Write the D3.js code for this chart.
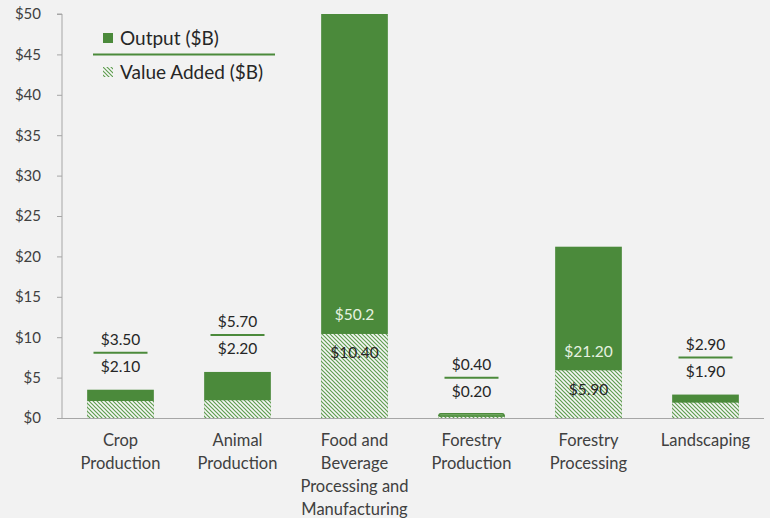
<!DOCTYPE html>
<html><head><meta charset="utf-8">
<script src="https://cdn.jsdelivr.net/npm/d3@7"></script>
<style>
html,body{margin:0;padding:0;background:#f2f2f2;}
svg{display:block;font-family:Lato,"Open Sans",sans-serif;}
</style></head>
<body>
<svg id="chart" width="770" height="518"></svg>
<script>
const categories = [["Crop","Production"],["Animal","Production"],["Food and","Beverage","Processing and","Manufacturing"],["Forestry","Production"],["Forestry","Processing"],["Landscaping"]];
const outputValues = [3.5, 5.7, 50.2, 0.4, 21.2, 2.9];
const valueAddedValues = [2.1, 2.2, 10.4, 0.2, 5.9, 1.9];
const outputLabels = ["$3.50","$5.70","$50.2","$0.40","$21.20","$2.90"];
const valueAddedLabels = ["$2.10","$2.20","$10.40","$0.20","$5.90","$1.90"];
const yTicks = [0,5,10,15,20,25,30,35,40,45,50];
const seriesNames = ["Output ($B)","Value Added ($B)"];

const svg = d3.select("#chart");
const green = "#4b8a3b", hatchGreen = "#5f9d4f", textCol = "#404040";
const mLeft = 62, mRight = 764, mTop = 14, mBottom = 418;

const defs = svg.append("defs");
const pat = defs.append("pattern").attr("id","hatch").attr("patternUnits","userSpaceOnUse")
  .attr("width",4).attr("height",4);
pat.append("rect").attr("width",4).attr("height",4).attr("fill","#f7f7f7");
pat.append("path").attr("d","M0,0 L4,4 M-1,3 L1,5 M3,-1 L5,1")
  .attr("stroke",hatchGreen).attr("stroke-width",1.2);

const idx = categories.map((d,i)=>i);
const x = d3.scaleBand().domain(idx).range([mLeft,mRight]).paddingInner(0.43).paddingOuter(0.215);
const y = d3.scaleLinear().domain([0,50]).range([mBottom,mTop]).clamp(true);

// y axis
const yAxis = svg.append("g").attr("transform",`translate(${mLeft},0)`)
  .call(d3.axisLeft(y).tickValues(yTicks).tickSize(5).tickPadding(16).tickFormat(d=>"$"+d));
yAxis.select(".domain").attr("stroke","#a6a6a6").attr("d",`M-5,${mTop}H0V${mBottom}`);
yAxis.selectAll(".tick line").attr("stroke","#a6a6a6");
yAxis.selectAll("text").attr("fill",textCol).style("font-size","15px").style("font-family","Lato,sans-serif");

// bars
const g = svg.append("g");
g.selectAll(".out").data(idx).join("rect").attr("class","out")
  .attr("x",i=>x(i)).attr("width",x.bandwidth())
  .attr("y",i=>y(outputValues[i])).attr("height",i=>mBottom-y(outputValues[i]))
  .attr("fill",green);
g.selectAll(".va").data(idx).join("rect").attr("class","va")
  .attr("x",i=>x(i)).attr("width",x.bandwidth())
  .attr("y",i=>y(valueAddedValues[i])).attr("height",i=>mBottom-y(valueAddedValues[i]))
  .attr("fill","url(#hatch)");
// lighter inner fill for the tiny bar, as in the reference
g.selectAll(".outl").data(idx.filter(i=>outputValues[i]<1)).join("rect")
  .attr("x",i=>x(i)+1).attr("width",x.bandwidth()-2)
  .attr("y",i=>y(outputValues[i])-1).attr("height",i=>mBottom-y(outputValues[i])-1)
  .attr("rx",1.5)
  .attr("fill","#8fbf7f").attr("stroke",green).attr("stroke-width",1.5);

// x axis line
svg.append("line").attr("x1",mLeft-5).attr("x2",mRight).attr("y1",mBottom+0.5).attr("y2",mBottom+0.5)
  .attr("stroke","#a6a6a6");

// category labels
const cl = svg.append("g");
idx.forEach(i=>{
  const t = cl.append("text").attr("text-anchor","middle").attr("fill",textCol)
    .style("font-size","16.5px");
  categories[i].forEach((line,k)=>{
    t.append("tspan").attr("x",x(i)+x.bandwidth()/2).attr("y",446+k*23).text(line);
  });
});

// data labels
const lab = svg.append("g").style("font-size","15.5px");
idx.forEach(i=>{
  const cx = x(i)+x.bandwidth()/2;
  if (outputValues[i] > 10) {
    const vaTop = y(valueAddedValues[i]);
    lab.append("text").attr("x",cx).attr("y",vaTop-19).attr("dy","0.35em").attr("text-anchor","middle")
      .attr("fill","#e6f2e0").text(outputLabels[i]);
    lab.append("text").attr("x",cx).attr("y",vaTop+19).attr("dy","0.35em").attr("text-anchor","middle")
      .attr("fill","#262626").text(valueAddedLabels[i]);
  } else {
    const topY = y(outputValues[i]);
    lab.append("text").attr("x",cx).attr("y",topY-23).attr("dy","0.35em").attr("text-anchor","middle")
      .attr("fill","#262626").text(valueAddedLabels[i]);
    lab.append("line").attr("x1",cx-27).attr("x2",cx+27).attr("y1",topY-37).attr("y2",topY-37)
      .attr("stroke",green).attr("stroke-width",2);
    lab.append("text").attr("x",cx).attr("y",topY-50).attr("dy","0.35em").attr("text-anchor","middle")
      .attr("fill","#262626").text(outputLabels[i]);
  }
});

// legend
const lg = svg.append("g");
lg.append("rect").attr("x",103).attr("y",33).attr("width",10).attr("height",10).attr("fill",green);
lg.append("text").attr("x",120).attr("y",38).attr("dy","0.35em").attr("fill","#262626")
  .style("font-size","19px").text(seriesNames[0]);
lg.append("line").attr("x1",93).attr("x2",275).attr("y1",54.5).attr("y2",54.5)
  .attr("stroke",green).attr("stroke-width",2);
lg.append("rect").attr("x",103).attr("y",67).attr("width",10).attr("height",10).attr("fill","url(#hatch)");
lg.append("text").attr("x",120).attr("y",72).attr("dy","0.35em").attr("fill","#262626")
  .style("font-size","19px").text(seriesNames[1]);
</script>
</body></html>
